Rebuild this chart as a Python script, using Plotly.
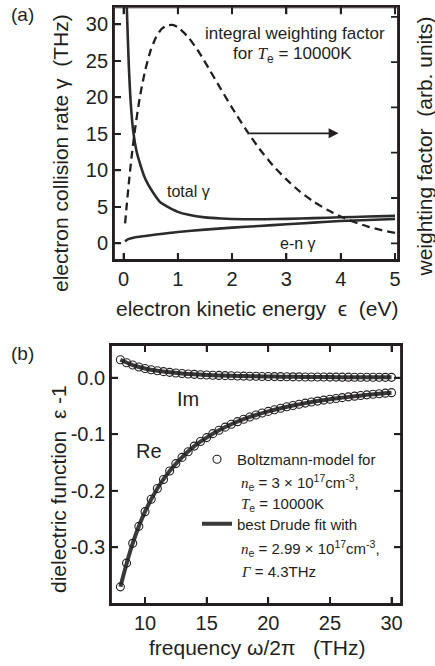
import plotly.graph_objects as go

# ---------- panel (a): collision rates and weighting factor ----------
energy_total = [0.06, 0.08, 0.1, 0.13, 0.18, 0.24, 0.3, 0.37, 0.45, 0.55, 0.68, 0.8,
                1.0, 1.2, 1.5, 1.8, 2.2, 2.6, 3.0, 3.5, 4.0, 4.5, 5.0]
gamma_total = [32.5, 28.0, 24.0, 19.6, 15.3, 12.6, 11.0, 9.4, 8.1, 6.9, 5.6, 5.05,
               4.3, 3.9, 3.55, 3.4, 3.3, 3.3, 3.35, 3.45, 3.56, 3.66, 3.75]

energy_en = [0.03, 0.06, 0.1, 0.2, 0.4, 0.6, 1.0, 1.5, 2.0, 2.5, 3.0, 3.5, 4.0, 4.5, 5.0]
gamma_en = [0.25, 0.45, 0.6, 0.8, 1.0, 1.2, 1.55, 1.87, 2.15, 2.37, 2.6, 2.83, 3.05, 3.2, 3.33]

energy_w = [0.03, 0.05, 0.1, 0.15, 0.2, 0.3, 0.4, 0.5, 0.6, 0.7, 0.8, 0.9, 1.0, 1.2, 1.4,
            1.6, 1.8, 2.0, 2.25, 2.5, 2.75, 3.0, 3.25, 3.5, 3.75, 4.0, 4.25, 4.5, 4.75, 5.0]
weight = [0.44, 0.72, 1.35, 1.92, 2.41, 3.22, 3.82, 4.26, 4.55, 4.73, 4.81, 4.82, 4.77,
          4.54, 4.20, 3.80, 3.39, 2.99, 2.52, 2.09, 1.72, 1.41, 1.14, 0.92, 0.74, 0.59,
          0.47, 0.37, 0.29, 0.23]

xticks_a = [0, 1, 2, 3, 4, 5]
yticks_a = [0, 5, 10, 15, 20, 25, 30]
yticks_w = [0, 1, 2, 3, 4, 5]

# ---------- panel (b): dielectric function ----------
freq = [8, 8.5, 9, 9.5, 10, 10.5, 11, 11.5, 12, 12.5, 13, 13.5, 14, 14.5, 15, 15.5,
        16, 16.5, 17, 17.5, 18, 18.5, 19, 19.5, 20, 20.5, 21, 21.5, 22, 22.5, 23, 23.5,
        24, 24.5, 25, 25.5, 26, 26.5, 27, 27.5, 28, 28.5, 29, 29.5, 30]
re_boltz = [-0.370, -0.328, -0.293, -0.263, -0.237, -0.215, -0.196, -0.180, -0.165,
            -0.152, -0.141, -0.131, -0.121, -0.113, -0.106, -0.099, -0.093, -0.0875,
            -0.0824, -0.0778, -0.0735, -0.0696, -0.0660, -0.0626, -0.0596, -0.0567,
            -0.0540, -0.0515, -0.0492, -0.0471, -0.0450, -0.0431, -0.0414, -0.0397,
            -0.0381, -0.0367, -0.0353, -0.0339, -0.0327, -0.0315, -0.0304, -0.0293,
            -0.0283, -0.0274, -0.0265]
im_boltz = [0.0317, 0.0264, 0.0223, 0.0189, 0.0163, 0.0140, 0.0122, 0.0107, 0.0094,
            0.0083, 0.0074, 0.0066, 0.0059, 0.0053, 0.0048, 0.0044, 0.0040, 0.0036,
            0.0033, 0.0030, 0.0028, 0.0026, 0.0024, 0.0022, 0.0020, 0.0019, 0.0018,
            0.0016, 0.0015, 0.0014, 0.0013, 0.0013, 0.0012, 0.0011, 0.0010, 0.0010,
            0.0009, 0.0009, 0.0008, 0.0008, 0.0007, 0.0007, 0.0007, 0.0006, 0.0006]

freq_fit = [8, 9, 10, 11, 12, 13, 14, 15, 16, 17, 18, 19, 20, 21, 22, 23, 24, 25,
            26, 27, 28, 29, 30]
re_drude = [-0.370, -0.293, -0.237, -0.196, -0.165, -0.141, -0.121, -0.106, -0.093,
            -0.0824, -0.0735, -0.0660, -0.0596, -0.0540, -0.0492, -0.0450, -0.0414,
            -0.0381, -0.0353, -0.0327, -0.0304, -0.0283, -0.0265]
im_drude = [0.0317, 0.0223, 0.0163, 0.0122, 0.0094, 0.0074, 0.0059, 0.0048, 0.0040,
            0.0033, 0.0028, 0.0024, 0.0020, 0.0018, 0.0015, 0.0013, 0.0012, 0.0010,
            0.0009, 0.0008, 0.0007, 0.0007, 0.0006]

xticks_b = [10, 15, 20, 25, 30]
yticks_b = [-0.3, -0.2, -0.1, 0.0]
ytick_b_text = ["-0.3", "-0.2", "-0.1", "0.0"]

# axis ranges
XR_A = [-0.175, 5.055]
YR_A = [-2.29, 32.33]
YR_W = [-0.369, 5.21]
XR_B = [7.24, 30.77]
YR_B = [-0.4003, 0.0578]

W, H = 435, 666
FONT = "Liberation Sans, Arial, Helvetica, sans-serif"
SERIF = "Liberation Serif, Times New Roman, serif"
INK = "#231f20"
CURVE = "#2b2b2b"
TICKLEN = 7
FRAME_W = 1.8

# plot-area boxes in pixels: (left, right, top, bottom)
BOX_A = (114, 398, 7.3, 260)
BOX_B = (111, 401, 345, 604)


def px_x(p):
    return p / W


def px_y(p):
    return 1 - p / H


def it(s):
    return '<span style="font-family:%s"><i>%s</i></span>' % (SERIF, s)


DOM_AX = [px_x(BOX_A[0]), px_x(BOX_A[1])]
DOM_AY = [px_y(BOX_A[3]), px_y(BOX_A[2])]
DOM_BX = [px_x(BOX_B[0]), px_x(BOX_B[1])]
DOM_BY = [px_y(BOX_B[3]), px_y(BOX_B[2])]

fig = go.Figure()

# panel (a): collision rates on the left scale
fig.add_trace(go.Scatter(x=energy_total, y=gamma_total, mode="lines",
                         line=dict(color=CURVE, width=2.6, shape="spline", smoothing=0.6),
                         xaxis="x", yaxis="y", showlegend=False))
fig.add_trace(go.Scatter(x=energy_en, y=gamma_en, mode="lines",
                         line=dict(color=CURVE, width=2.6, shape="spline", smoothing=0.6),
                         xaxis="x", yaxis="y", showlegend=False))
# weighting factor on its own (right-hand) scale sharing the same box
fig.add_trace(go.Scatter(x=energy_w, y=weight, mode="lines",
                         line=dict(color=INK, width=2.3, dash="8px,5px", shape="spline",
                                   smoothing=0.6),
                         xaxis="x2", yaxis="y2", showlegend=False))

# panel (b): Boltzmann model points and Drude fit
fig.add_trace(go.Scatter(x=freq_fit, y=re_drude, mode="lines",
                         line=dict(color="#3a3a3a", width=4, shape="spline"),
                         xaxis="x3", yaxis="y3", name="best Drude fit with",
                         legendgroup="drude", showlegend=True, legendrank=2))
fig.add_trace(go.Scatter(x=freq_fit, y=im_drude, mode="lines",
                         line=dict(color="#3a3a3a", width=4, shape="spline"),
                         xaxis="x3", yaxis="y3", legendgroup="drude", showlegend=False))
fig.add_trace(go.Scatter(x=freq, y=re_boltz, mode="markers",
                         marker=dict(symbol="circle-open", size=8, color=INK,
                                     line=dict(width=1.1, color=INK)),
                         xaxis="x3", yaxis="y3", name="Boltzmann-model for",
                         legendgroup="boltz", showlegend=True, legendrank=1))
fig.add_trace(go.Scatter(x=freq, y=im_boltz, mode="markers",
                         marker=dict(symbol="circle-open", size=8, color=INK,
                                     line=dict(width=1.1, color=INK)),
                         xaxis="x3", yaxis="y3", legendgroup="boltz", showlegend=False))


# frame and inward tick marks of each panel, drawn in the axes' own coordinates
def frame_trace(xa, ya, xr, yr):
    fig.add_trace(go.Scatter(x=[xr[0], xr[1], xr[1], xr[0], xr[0]],
                             y=[yr[0], yr[0], yr[1], yr[1], yr[0]],
                             mode="lines", line=dict(color=INK, width=FRAME_W),
                             cliponaxis=False, hoverinfo="skip", showlegend=False,
                             xaxis=xa, yaxis=ya))


def tick_trace(xa, ya, xr, yr, box, xvals=(), yvals=(), top=True, left=True,
               right=True):
    dy = TICKLEN * (yr[1] - yr[0]) / (box[3] - box[2])
    dx = TICKLEN * (xr[1] - xr[0]) / (box[1] - box[0])
    xs, ys = [], []
    for v in xvals:
        xs += [v, v, None]
        ys += [yr[0], yr[0] + dy, None]
        if top:
            xs += [v, v, None]
            ys += [yr[1], yr[1] - dy, None]
    for v in yvals:
        if left:
            xs += [xr[0], xr[0] + dx, None]
            ys += [v, v, None]
        if right:
            xs += [xr[1], xr[1] - dx, None]
            ys += [v, v, None]
    fig.add_trace(go.Scatter(x=xs, y=ys, mode="lines",
                             line=dict(color=INK, width=FRAME_W),
                             cliponaxis=False, hoverinfo="skip", showlegend=False,
                             xaxis=xa, yaxis=ya))


frame_trace("x", "y", XR_A, YR_A)
tick_trace("x", "y", XR_A, YR_A, BOX_A, xvals=xticks_a, yvals=yticks_a, right=False)
tick_trace("x2", "y2", XR_A, YR_W, BOX_A, yvals=yticks_w, left=False)
frame_trace("x3", "y3", XR_B, YR_B)
tick_trace("x3", "y3", XR_B, YR_B, BOX_B, xvals=xticks_b, yvals=yticks_b)

axis_common = dict(showline=True, linecolor=INK, linewidth=FRAME_W, ticks="inside",
                   ticklen=TICKLEN, tickwidth=FRAME_W, tickcolor=INK, showgrid=False,
                   zeroline=False, automargin=False, layer="above traces",
                   tickfont=dict(family=FONT, size=20, color=INK))

fig.update_layout(
    template="none",
    width=W, height=H,
    margin=dict(l=0, r=0, t=0, b=0, pad=0),
    paper_bgcolor="white", plot_bgcolor="rgba(0,0,0,0)",
    font=dict(family=FONT, color=INK),
    xaxis=dict(domain=DOM_AX, range=XR_A, anchor="y", tickvals=xticks_a,
               mirror="ticks", **axis_common),
    yaxis=dict(domain=DOM_AY, range=YR_A, anchor="x", tickvals=yticks_a,
               mirror=True, **axis_common),
    xaxis2=dict(domain=DOM_AX, range=XR_A, anchor="y2", visible=False,
                showgrid=False, zeroline=False),
    yaxis2=dict(domain=DOM_AY, range=YR_W, anchor="x2", visible=False,
                showgrid=False, zeroline=False),
    xaxis3=dict(domain=DOM_BX, range=XR_B, anchor="y3", tickvals=xticks_b,
                mirror="ticks", **axis_common),
    yaxis3=dict(domain=DOM_BY, range=YR_B, anchor="x3", tickvals=yticks_b,
                ticktext=ytick_b_text, mirror="ticks", **axis_common),
    legend=dict(x=px_x(197), y=px_y(443), xanchor="left", yanchor="top",
                bgcolor="rgba(0,0,0,0)", borderwidth=0, tracegroupgap=42,
                traceorder="grouped", font=dict(family=FONT, size=15, color=INK),
                itemwidth=30),
)

ann = []


def text(x, y, s, size, xref="paper", yref="paper", angle=0, xanchor="center"):
    ann.append(dict(x=x, y=y, xref=xref, yref=yref, text=s, showarrow=False,
                    textangle=angle, xanchor=xanchor, yanchor="middle",
                    font=dict(family=FONT, size=size, color=INK)))


# axis titles
text(px_x(256.5), px_y(309), "electron kinetic energy  ϵ  (eV)", 21)
text(px_x(60), px_y(153), "electron collision rate γ  (THz)", 21, angle=-90)
text(px_x(424.5), px_y(147), "weighting factor  (arb. units)", 21, angle=-90)
text(px_x(58), px_y(489), "dielectric function  ε -1", 21, angle=-90)
text(px_x(256.7), px_y(647), "frequency ω/2π   (THz)", 21)

# panel labels
text(px_x(22), px_y(15), "(a)", 19)
text(px_x(22), px_y(353), "(b)", 19)

# panel (a) labels
text(3.16, 28.77, "integral weighting factor", 17, "x", "y")
text(3.11, 25.8, "for " + it("T") + "<sub>e</sub> = 10000K", 17, "x", "y")
text(1.19, 7.07, "total γ", 16, "x", "y")
text(3.21, 0.0, "e-n γ", 16, "x", "y")

# arrow pointing to the right-hand axis
ann.append(dict(x=3.96, y=15.07, ax=2.29, ay=15.07, xref="x", yref="y",
                axref="x", ayref="y", showarrow=True, arrowhead=2, arrowsize=1.1,
                arrowwidth=1.8, arrowcolor=INK, text=""))

# panel (b) labels
text(13.5, -0.038, "Im", 20, "x3", "y3")
text(10.33, -0.1295, "Re", 20, "x3", "y3")

# legend parameter lines
text(px_x(239), px_y(482.7), it("n") + "<sub>e</sub> = 3 × 10<sup>17</sup>cm<sup>-3</sup>,",
     15, xanchor="left")
text(px_x(239), px_y(504), it("T") + "<sub>e</sub> = 10000K", 15, xanchor="left")
text(px_x(239), px_y(548.3),
     it("n") + "<sub>e</sub> = 2.99 × 10<sup>17</sup>cm<sup>-3</sup>,", 15, xanchor="left")
text(px_x(239), px_y(571.7), it("Γ") + " = 4.3THz", 15, xanchor="left")

fig.update_layout(annotations=ann)

fig.write_html("out.html")
